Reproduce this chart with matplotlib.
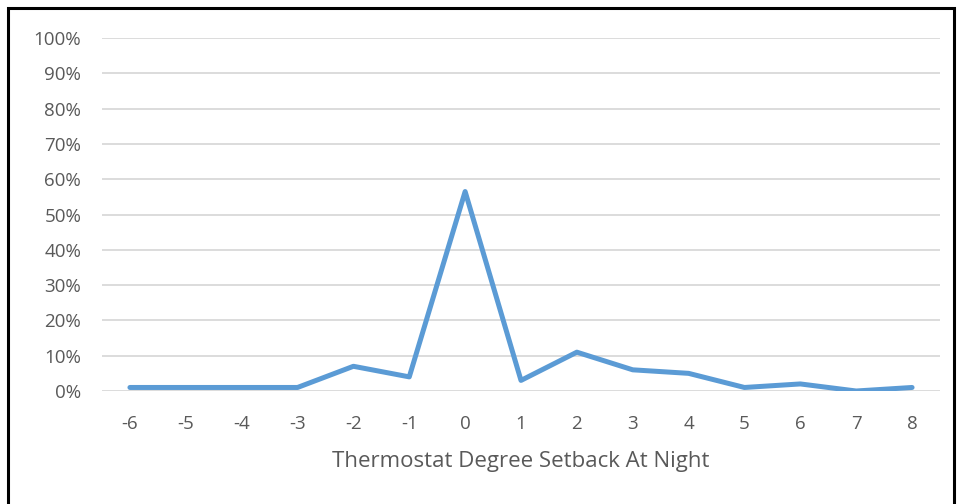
import matplotlib
matplotlib.use("Agg")
import matplotlib.pyplot as plt
from matplotlib.patches import Rectangle
from matplotlib.ticker import PercentFormatter

# setback degrees and share of respondents
setback = [-6, -5, -4, -3, -2, -1, 0, 1, 2, 3, 4, 5, 6, 7, 8]
share = [0.01, 0.01, 0.01, 0.01, 0.07, 0.04, 0.565, 0.03, 0.11, 0.06, 0.05, 0.01, 0.02, 0.0, 0.01]
y_ticks = [i / 10 for i in range(11)]

plt.rcParams['font.family'] = ['Open Sans', 'DejaVu Sans']
plt.rcParams['axes.unicode_minus'] = False

fig = plt.figure(figsize=(9.58, 5.04), dpi=100)
ax = fig.add_axes([102 / 958, 1 - 391 / 504, 838 / 958, 353 / 504])

ax.plot(setback, share, color='#5B9BD5', linewidth=3.6, solid_capstyle='round', zorder=3)

ax.set_xlim(-6.5, 8.5)
ax.set_ylim(0, 1)
ax.set_xticks(setback)
ax.set_yticks(y_ticks)
ax.yaxis.set_major_formatter(PercentFormatter(1.0, decimals=0))
ax.grid(axis='y', color='#D9D9D9', linewidth=1.3)
ax.set_axisbelow(True)
for s in ax.spines.values():
    s.set_visible(False)
ax.tick_params(length=0, labelsize=13.5, labelcolor='#595959')
ax.tick_params(axis='y', pad=15)
ax.tick_params(axis='x', pad=17)
ax.set_xlabel("Thermostat Degree Setback At Night", fontsize=16, color='#595959', labelpad=13)

# black frame around the chart
fig.patches.append(Rectangle((8 / 958, -0.01), 946 / 958, 1 - 8 / 504 + 0.01,
                             transform=fig.transFigure, fill=False,
                             edgecolor='black', linewidth=2.2))

fig.savefig("out.png", dpi=100)
